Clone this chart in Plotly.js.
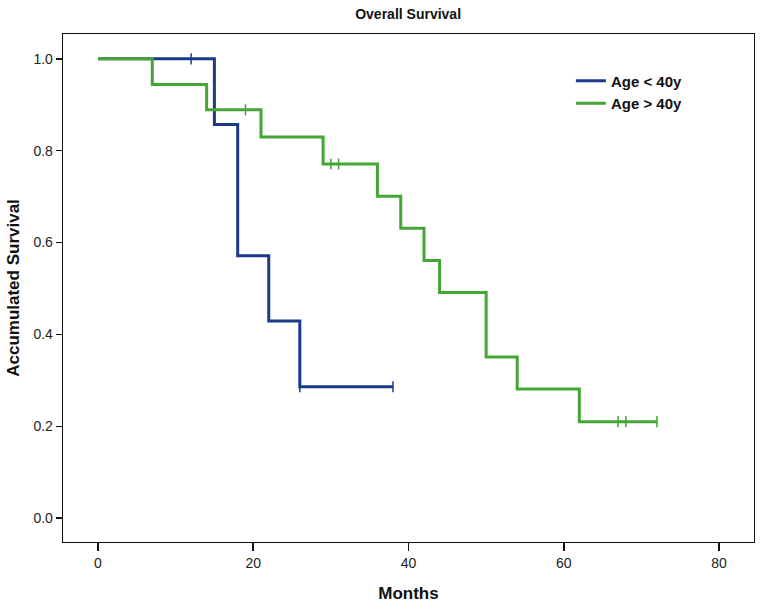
<!DOCTYPE html>
<html>
<head>
<meta charset="utf-8">
<script src="https://cdn.plot.ly/plotly-3.0.1.min.js"></script>
<style>html,body{margin:0;padding:0;background:#fff}#chart{width:760px;height:604px}</style>
</head>
<body>
<div id="chart"></div>
<script>
// Age < 40y step curve
const youngTimes = [0, 15, 18, 22, 26, 38];
const youngSurv  = [1.0, 0.857, 0.571, 0.429, 0.286, 0.286];
const youngCensorTimes = [12, 26, 38];
const youngCensorSurv  = [1.0, 0.286, 0.286];

// Age > 40y step curve
const oldTimes = [0, 7, 14, 21, 29, 36, 39, 42, 44, 50, 54, 62, 72];
const oldSurv  = [1.0, 0.944, 0.889, 0.830, 0.771, 0.701, 0.631, 0.561, 0.491, 0.351, 0.281, 0.210, 0.210];
const oldCensorTimes = [19, 30, 31, 67, 68, 72];
const oldCensorSurv  = [0.889, 0.771, 0.771, 0.210, 0.210, 0.210];

const seriesNames = ["Age < 40y", "Age > 40y"];
const xTicks = [0, 20, 40, 60, 80];
const yTicks = [0, 0.2, 0.4, 0.6, 0.8, 1.0];
const yTickText = ["0.0", "0.2", "0.4", "0.6", "0.8", "1.0"];

const blue = "#1b3a8a";
const green = "#45a536";
const font = "Liberation Sans Narrow, Arial Narrow, Liberation Sans, Arial, sans-serif";

const traces = [
  {x: youngTimes, y: youngSurv, mode: "lines", line: {shape: "hv", color: blue, width: 3}, name: "<b>" + seriesNames[0] + "</b>"},
  {x: oldTimes, y: oldSurv, mode: "lines", line: {shape: "hv", color: green, width: 3}, name: "<b>" + seriesNames[1] + "</b>"},
  {x: youngCensorTimes, y: youngCensorSurv, mode: "markers", showlegend: false,
   marker: {symbol: "line-ns-open", size: 8, color: blue, line: {color: blue, width: 1.5}}},
  {x: oldCensorTimes, y: oldCensorSurv, mode: "markers", showlegend: false,
   marker: {symbol: "line-ns-open", size: 8, color: green, line: {color: green, width: 1.5}}}
];

const layout = {
  width: 760, height: 604,
  margin: {l: 63, r: 6, t: 34, b: 62},
  paper_bgcolor: "#ffffff", plot_bgcolor: "#ffffff",
  font: {family: font, color: "#111"},
  title: {text: "<b>Overall Survival</b>", x: 0.537, xanchor: "center", y: 0.976, yanchor: "middle",
          font: {size: 14, family: font, color: "#111"}},
  xaxis: {
    range: [-4.5, 84.5], tickvals: xTicks, ticktext: xTicks.map(String),
    showgrid: false, zeroline: false, showline: true, mirror: true, linecolor: "#111", linewidth: 1.3,
    ticks: "outside", ticklen: 8, tickwidth: 1.5, tickcolor: "#111",
    tickfont: {size: 14, family: font, color: "#222"},
    title: {text: "<b>Months</b>", font: {size: 17, family: font, color: "#111"}, standoff: 17}
  },
  yaxis: {
    range: [-0.052, 1.054], tickvals: yTicks, ticktext: yTickText,
    showgrid: false, zeroline: false, showline: true, mirror: true, linecolor: "#111", linewidth: 1.3,
    ticks: "outside", ticklen: 6, tickwidth: 1.5, tickcolor: "#111",
    tickfont: {size: 14, family: font, color: "#222"},
    title: {text: "<b>Accumulated Survival</b>", font: {size: 17, family: font, color: "#111"}, standoff: 9}
  },
  legend: {x: 0.735, y: 0.94, xanchor: "left", yanchor: "top", bgcolor: "rgba(0,0,0,0)",
           font: {size: 15, family: font, color: "#111"}, itemwidth: 30, tracegroupgap: 4},
  showlegend: true
};

Plotly.newPlot("chart", traces, layout, {displayModeBar: false, staticPlot: true});
</script>
</body>
</html>
